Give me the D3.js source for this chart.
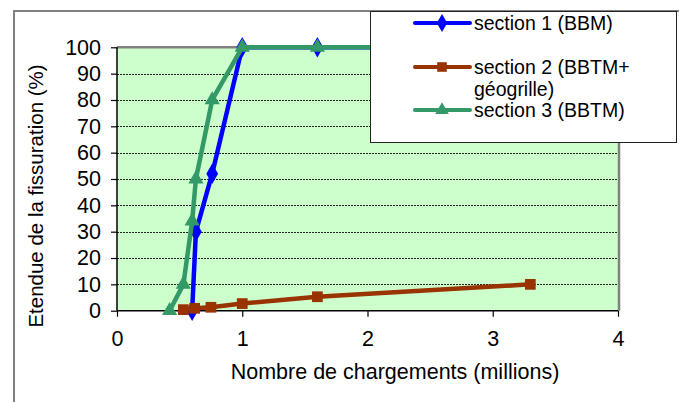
<!DOCTYPE html>
<html><head><meta charset="utf-8">
<script src="https://cdn.jsdelivr.net/npm/d3@7"></script>
<style>body{margin:0;background:#fff}svg{display:block}text{font-family:"Liberation Sans",Arial,sans-serif;fill:#000}</style>
</head><body>
<svg id="c" width="679" height="402"></svg>
<script>
// ---- data ----
const s1X = [0.6, 0.63, 0.76, 1.0, 1.6, 3.3];
const s1Y = [0, 30, 52, 100, 100, 100];
const s2X = [0.53, 0.62, 0.75, 1.0, 1.6, 3.3];
const s2Y = [0.4, 0.9, 1.3, 2.7, 5.3, 10];
const s3X = [0.42, 0.53, 0.6, 0.63, 0.76, 1.0, 1.6, 3.3];
const s3Y = [0, 10, 34, 50, 80, 100, 100, 100];
const seriesNames = [["section 1 (BBM)"], ["section 2 (BBTM+", "géogrille)"], ["section 3 (BBTM)"]];
const xTicks = [0, 1, 2, 3, 4];
const yTicks = [0, 10, 20, 30, 40, 50, 60, 70, 80, 90, 100];
const xTitle = "Nombre de chargements (millions)";
const yTitle = "Etendue de la fissuration (%)";

const colors = ["#0000FF", "#993300", "#339966"];
const series = [
  {x: s1X, y: s1Y, shape: d3.symbolDiamond, size: 120},
  {x: s2X, y: s2Y, shape: d3.symbolSquare, size: 115},
  {x: s3X, y: s3Y, shape: d3.symbolTriangle, size: 100}
];

const svg = d3.select("#c");
const L = 117, R = 618, T = 47.3, B = 310.7;
const x = d3.scaleLinear().domain([0, 4]).range([L, R]);
const y = d3.scaleLinear().domain([0, 100]).range([B, T]);

// outer chart border (cropped)
svg.append("path").attr("d", `M14,402 V11 H679`).attr("fill", "none").attr("stroke", "#808080").attr("stroke-width", 2);

// plot area
svg.append("rect").attr("x", L).attr("y", T).attr("width", R - L).attr("height", B - T).attr("fill", "#CCFFCC");

// gridlines
svg.append("g").selectAll("line").data(yTicks.filter(v => v > 0 && v < 100)).join("line")
  .attr("x1", L).attr("x2", R).attr("y1", d => Math.round(y(d)) + 0.5).attr("y2", d => Math.round(y(d)) + 0.5)
  .attr("stroke", "#222").attr("stroke-width", 1).attr("stroke-dasharray", "2,1");

// plot border top & right (gray)
svg.append("path").attr("d", `M${L},${T} H${R + 1} V${B}`).attr("fill", "none").attr("stroke", "#808080").attr("stroke-width", 2.5);

// axes
const yAxis = d3.axisLeft(y).tickValues(yTicks).tickSize(6).tickPadding(10).tickFormat(d3.format("d"));
const gy = svg.append("g").attr("transform", `translate(${L},0)`).call(yAxis);
const xAxis = d3.axisBottom(x).tickValues(xTicks).tickSize(6).tickPadding(14).tickFormat(d3.format("d"));
const gx = svg.append("g").attr("transform", `translate(0,${B})`).call(xAxis);
[gx, gy].forEach(g => {
  g.select(".domain").attr("stroke", "#000").attr("stroke-width", 1.5);
  g.selectAll(".tick line").attr("stroke", "#000").attr("stroke-width", 1.2);
  g.selectAll("text").style("font-family", '"Liberation Sans", Arial, sans-serif').style("font-size", "21.5px").attr("fill", "#000");
});
gy.select(".domain").attr("d", `M0,${T}V${B}`);
gx.select(".domain").attr("d", `M${L},0H${R}`);

// titles
svg.append("text").attr("x", 395).attr("y", 379).attr("text-anchor", "middle").style("font-size", "21.5px").text(xTitle);
svg.append("text").attr("transform", `translate(43,196) rotate(-90)`).attr("text-anchor", "middle").style("font-size", "20.5px").text(yTitle);

// series
const line = d3.line().x(d => x(d[0])).y(d => y(d[1]));
series.forEach((s, i) => {
  const pts = s.x.map((v, j) => [v, s.y[j]]);
  const g = svg.append("g");
  g.append("path").attr("d", line(pts)).attr("fill", "none").attr("stroke", colors[i]).attr("stroke-width", 4.5).attr("stroke-linejoin", "round");
  g.selectAll("path.m").data(pts).join("path").attr("class", "m")
    .attr("transform", d => `translate(${x(d[0])},${y(d[1])})`)
    .attr("d", d3.symbol().type(s.shape).size(s.size)).attr("fill", colors[i]);
});

// legend
const lg = svg.append("g");
lg.append("rect").attr("x", 370.5).attr("y", 11.5).attr("width", 306).attr("height", 131).attr("fill", "#fff").attr("stroke", "#222").attr("stroke-width", 1);
const legY = [23, 67, 110];
series.forEach((s, i) => {
  lg.append("line").attr("x1", 415).attr("x2", 470).attr("y1", legY[i]).attr("y2", legY[i]).attr("stroke", colors[i]).attr("stroke-width", 4).attr("stroke-linecap", "round");
  lg.append("path").attr("transform", `translate(442,${legY[i]})`).attr("d", d3.symbol().type(s.shape).size(s.size * 0.8)).attr("fill", colors[i]);
  seriesNames[i].forEach((t, k) => {
    lg.append("text").attr("x", 474).attr("y", legY[i] + 7 + k * 22).style("font-size", "19.5px").text(t);
  });
});
</script>
</body></html>
